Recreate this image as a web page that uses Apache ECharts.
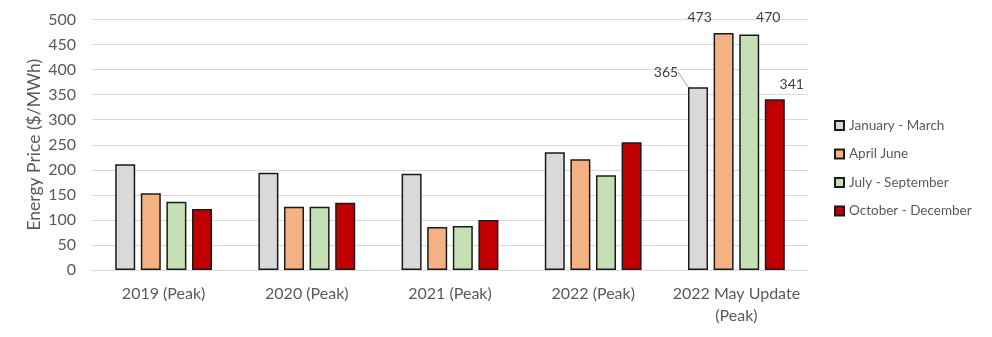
<!DOCTYPE html>
<html>
<head>
<meta charset="utf-8">
<script src="https://cdn.jsdelivr.net/npm/echarts@6/dist/echarts.min.js"></script>
<style>
  html, body { margin: 0; padding: 0; background: #fff; }
  #chart { width: 992px; height: 337px; }
</style>
</head>
<body>
<div id="chart"></div>
<script>
// Peak energy prices by quarter ($/MWh)
const categories = ['2019 (Peak)', '2020 (Peak)', '2021 (Peak)', '2022 (Peak)', '2022 May Update\n(Peak)'];
const seriesNames = ['January - March', 'April June', 'July - September', 'October - December'];
const janMar = [211, 194, 192, 235, 365];
const aprJun = [153, 126, 86, 221, 473];
const julSep = [136, 126, 88, 189, 470];
const octDec = [122, 134, 100, 255, 341];
const yTicks = { min: 0, max: 500, interval: 50 };

const colors = ['#d9d9d9', '#f4b183', '#c5e0b4', '#c00000'];
const seriesValues = [janMar, aprJun, julSep, octDec];
// the value labels are only shown on the last group; nudges keep them apart
const labelShift = [[-32, -3], [-24, -4], [19, -5], [17, -3]];
const labelledIndex = categories.length - 1;

const FONT = 'Lato, "Liberation Sans", sans-serif';
const TEXT = '#595959';

const chart = echarts.init(document.getElementById('chart'), null, { renderer: 'canvas' });

const series = seriesValues.map((vals, s) => ({
  name: seriesNames[s],
  type: 'bar',
  barWidth: 20,
  barGap: '28%',
  itemStyle: { color: colors[s], borderColor: '#1a1a1a', borderWidth: 1.5 },
  data: vals.map((v, i) => i === labelledIndex
    ? { value: v, label: { show: true } }
    : v),
  label: {
    show: false,
    position: 'top',
    distance: 5,
    color: '#404040',
    fontFamily: FONT,
    fontSize: 14
  },
  labelLayout: function (p) {
    if (p.dataIndex !== labelledIndex) return {};
    return { dx: labelShift[s][0], dy: labelShift[s][1] };
  },
  labelLine: s === 0
    ? { show: true, lineStyle: { color: '#a6a6a6', width: 1 } }
    : { show: false }
}));

chart.setOption({
  animation: false,
  backgroundColor: '#ffffff',
  textStyle: { fontFamily: FONT },
  grid: { left: 92, right: 184, top: 19.5, bottom: 67, containLabel: false },
  legend: {
    orient: 'vertical',
    left: 834,
    top: 118.5,
    padding: 0,
    icon: 'rect',
    itemWidth: 9,
    itemHeight: 9,
    itemGap: 14.5,
    data: seriesNames,
    textStyle: { color: TEXT, fontFamily: FONT, fontSize: 13.5, lineHeight: 14 }
  },
  xAxis: {
    type: 'category',
    data: categories,
    axisLine: { show: true, lineStyle: { color: '#d9d9d9', width: 1 } },
    axisTick: { show: false },
    axisLabel: {
      color: TEXT,
      fontFamily: FONT,
      fontSize: 16,
      lineHeight: 22,
      margin: 13,
      interval: 0
    }
  },
  yAxis: {
    type: 'value',
    min: yTicks.min,
    max: yTicks.max,
    interval: yTicks.interval,
    name: 'Energy Price ($/MWh)',
    nameLocation: 'middle',
    nameGap: 49,
    nameMoveOverlap: false,
    nameTextStyle: { color: TEXT, fontFamily: FONT, fontSize: 17.5 },
    axisLine: { show: false },
    axisTick: { show: false },
    axisLabel: { color: TEXT, fontFamily: FONT, fontSize: 16, margin: 16 },
    splitLine: { lineStyle: { color: '#d9d9d9', width: 1 } }
  },
  series: series
});
</script>
</body>
</html>
